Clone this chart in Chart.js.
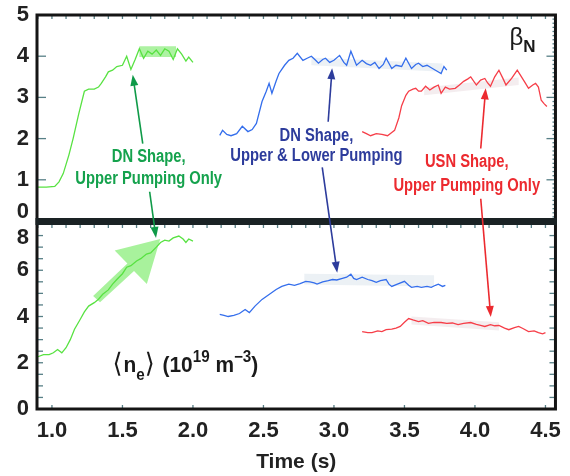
<!DOCTYPE html>
<html>
<head>
<meta charset="utf-8">
<script src="https://cdn.jsdelivr.net/npm/chart.js@4"></script>
<style>
  html, body { margin: 0; padding: 0; background: #fff; }
  canvas { display: block; }
</style>
</head>
<body>
<canvas id="chart" width="570" height="476"></canvas>
<script>
// time axis (s)
const xMin = 0.894, xMax = 4.571;

// beta_N traces
const greenBetaT = [0.90,0.96,1.02,1.05,1.08,1.12,1.15,1.19,1.23,1.26,1.30,1.33,1.35,1.38,1.40,1.43,1.46,1.50,1.53,1.56,1.59,1.62,1.65,1.68,1.71,1.74,1.77,1.80,1.83,1.86,1.89,1.92,1.95,1.97,2.00];
const greenBeta  = [0.82,0.82,0.84,0.95,1.15,1.6,2.0,2.6,3.15,3.2,3.2,3.25,3.34,3.5,3.62,3.66,3.75,3.78,4.0,3.68,3.92,4.18,3.95,4.12,4.05,4.15,4.02,4.18,4.12,3.92,4.18,4.05,3.88,3.98,3.85];
const blueBetaT = [2.19,2.21,2.24,2.27,2.31,2.35,2.39,2.42,2.45,2.49,2.52,2.54,2.56,2.59,2.61,2.65,2.68,2.71,2.74,2.78,2.81,2.84,2.87,2.89,2.92,2.94,2.97,3.00,3.04,3.07,3.09,3.12,3.16,3.20,3.23,3.26,3.29,3.32,3.35,3.37,3.41,3.44,3.48,3.51,3.55,3.58,3.60,3.63,3.66,3.69,3.72,3.76,3.78,3.80];
const blueBeta  = [2.08,2.2,2.1,2.07,2.12,2.3,2.17,2.22,2.37,2.9,3.15,3.34,3.1,3.4,3.58,3.78,3.9,3.95,4.07,3.9,3.95,4.0,3.9,3.83,3.92,3.95,3.85,3.9,4.02,3.85,3.78,4.12,3.78,3.9,3.82,3.78,3.85,3.7,3.8,3.95,3.7,3.78,3.75,3.95,3.7,3.8,3.83,3.75,3.78,3.72,3.66,3.58,3.75,3.66];
const redBetaT = [3.20,3.23,3.26,3.30,3.34,3.38,3.41,3.43,3.46,3.48,3.51,3.53,3.56,3.58,3.60,3.62,3.65,3.68,3.71,3.74,3.76,3.79,3.82,3.86,3.89,3.92,3.95,3.97,4.01,4.04,4.07,4.09,4.11,4.14,4.17,4.20,4.22,4.26,4.30,4.33,4.35,4.38,4.41,4.43,4.45,4.47,4.49,4.51];
const redBeta  = [2.17,2.12,2.07,2.12,2.1,2.07,2.15,2.2,2.5,2.8,3.05,3.15,3.2,3.22,3.15,3.15,3.27,3.18,3.25,3.3,3.1,3.25,3.2,3.22,3.3,3.39,3.45,3.5,3.3,3.42,3.46,3.35,3.27,3.5,3.66,3.45,3.3,3.46,3.66,3.5,3.39,3.22,3.3,3.34,3.25,2.93,2.85,2.78];

// <n_e> traces (10^19 m^-3)
const greenNeT = [0.90,0.94,0.98,1.01,1.04,1.07,1.10,1.13,1.16,1.20,1.23,1.26,1.30,1.33,1.36,1.40,1.43,1.46,1.50,1.53,1.56,1.60,1.63,1.67,1.70,1.74,1.77,1.80,1.83,1.86,1.90,1.93,1.95,1.97,2.00];
const greenNe  = [2.26,2.35,2.35,2.43,2.57,2.43,2.65,3.0,3.45,3.87,4.2,4.45,4.6,4.75,4.96,5.15,5.4,5.6,5.85,6.13,6.2,6.4,6.5,6.7,6.75,7.0,7.2,7.3,7.26,7.4,7.48,7.35,7.2,7.35,7.26];
const blueNeT = [2.19,2.22,2.25,2.29,2.33,2.37,2.40,2.44,2.49,2.54,2.59,2.63,2.68,2.72,2.76,2.80,2.83,2.86,2.88,2.92,2.96,2.99,3.02,3.06,3.09,3.12,3.14,3.16,3.20,3.24,3.27,3.30,3.33,3.37,3.39,3.41,3.45,3.50,3.53,3.55,3.59,3.62,3.66,3.69,3.72,3.74,3.77,3.79];
const blueNe  = [4.09,4.05,4.0,4.05,4.13,4.3,4.17,4.45,4.74,4.95,5.17,5.3,5.4,5.35,5.42,5.52,5.5,5.45,5.4,5.5,5.55,5.6,5.58,5.65,5.7,5.83,5.65,5.6,5.7,5.6,5.55,5.48,5.55,5.6,5.4,5.3,5.4,5.52,5.35,5.26,5.3,5.26,5.3,5.26,5.35,5.4,5.3,5.35];
const redNeT = [3.20,3.24,3.27,3.31,3.34,3.37,3.41,3.44,3.47,3.50,3.53,3.56,3.60,3.63,3.67,3.71,3.76,3.80,3.84,3.88,3.92,3.97,4.01,4.04,4.07,4.11,4.14,4.17,4.21,4.24,4.28,4.31,4.34,4.38,4.42,4.45,4.48,4.50];
const redNe  = [3.35,3.3,3.3,3.38,3.35,3.43,3.45,3.5,3.57,3.75,3.91,3.85,3.78,3.82,3.7,3.75,3.74,3.7,3.72,3.65,3.7,3.74,3.66,3.62,3.57,3.65,3.6,3.61,3.5,3.43,3.52,3.57,3.48,3.35,3.38,3.3,3.25,3.3];

// shaded averaging windows: [t0, t1, lo0, hi0, lo1, hi1]
const bands = [
  { axis: 'yb', box: [1.62, 1.88, 3.98, 4.24, 3.98, 4.24], color: 'rgba(105,232,85,0.55)' },
  { axis: 'yb', box: [2.84, 3.77, 3.78, 3.97, 3.62, 3.82], color: 'rgba(205,218,228,0.38)' },
  { axis: 'yb', box: [3.64, 4.31, 3.05, 3.24, 3.30, 3.48], color: 'rgba(228,210,215,0.4)' },
  { axis: 'yn', box: [2.79, 3.71, 5.38, 5.85, 5.30, 5.78], color: 'rgba(205,218,228,0.38)' },
  { axis: 'yn', box: [3.55, 4.17, 3.65, 4.00, 3.40, 3.75], color: 'rgba(228,210,215,0.4)' }
];

// big translucent arrow on the green density rise
const bigArrowT = [1.292, 1.535, 1.445, 1.768, 1.673, 1.582, 1.341];
const bigArrowV = [4.89, 6.29, 6.85, 7.35, 5.41, 5.97, 4.62];

// annotation labels and pointers
const notes = [
  { lines: ['DN Shape,', 'Upper Pumping Only'], x: 1.686, y: [1.56, 1.02], color: '#15a24d' },
  { lines: ['DN Shape,', 'Upper & Lower Pumping'], x: 2.876, y: [2.07, 1.58], color: '#2d3c9c' },
  { lines: ['USN Shape,', 'Upper Pumping Only'], x: 3.942, y: [1.44, 0.85], color: '#ec2a2f' }
];
const pointers = [
  { from: [1.644, 1.88, 'yb'], to: [1.573, 3.55, 'yb'], color: '#0f9a48' },
  { from: [1.693, 0.71, 'yb'], to: [1.738, 7.40, 'yn'], color: '#0f9a48' },
  { from: [2.959, 2.41, 'yb'], to: [2.987, 3.71, 'yb'], color: '#2d3c9c' },
  { from: [2.917, 1.30, 'yb'], to: [3.023, 5.89, 'yn'], color: '#2d3c9c' },
  { from: [4.041, 1.76, 'yb'], to: [4.076, 3.22, 'yb'], color: '#ec2a2f' },
  { from: [4.041, 0.54, 'yb'], to: [4.112, 3.98, 'yn'], color: '#ec2a2f' }
];

const pts = (xs, ys) => xs.map((x, i) => ({ x: x, y: ys[i] }));
const FONT = '"Liberation Sans", Arial, sans-serif';
const tickFont = { family: FONT, size: 22, weight: 'bold' };

function runs(ctx, x, y, parts, sx) {
  ctx.save();
  ctx.translate(x, y);
  ctx.scale(sx, 1);
  ctx.textBaseline = 'alphabetic';
  ctx.textAlign = 'left';
  let cx = 0;
  parts.forEach(p => {
    ctx.font = p.font;
    ctx.fillText(p.t, cx, p.dy || 0);
    cx += ctx.measureText(p.t).width + (p.gap || 0);
  });
  ctx.restore();
}

function arrow(ctx, x0, y0, x1, y1, color) {
  const a = Math.atan2(y1 - y0, x1 - x0);
  const hl = 11, hw = 4;
  ctx.save();
  ctx.strokeStyle = color;
  ctx.fillStyle = color;
  ctx.lineWidth = 1.6;
  ctx.beginPath();
  ctx.moveTo(x0, y0);
  ctx.lineTo(x1 - Math.cos(a) * hl * 0.8, y1 - Math.sin(a) * hl * 0.8);
  ctx.stroke();
  ctx.beginPath();
  ctx.moveTo(x1, y1);
  ctx.lineTo(x1 - Math.cos(a) * hl - Math.sin(a) * hw, y1 - Math.sin(a) * hl + Math.cos(a) * hw);
  ctx.lineTo(x1 - Math.cos(a) * hl + Math.sin(a) * hw, y1 - Math.sin(a) * hl - Math.cos(a) * hw);
  ctx.closePath();
  ctx.fill();
  ctx.restore();
}

const deco = {
  id: 'deco',
  beforeDatasetsDraw(chart) {
    const ctx = chart.ctx, xs = chart.scales.x;
    ctx.save();
    bands.forEach(b => {
      const ys = chart.scales[b.axis], [t0, t1, l0, h0, l1, h1] = b.box;
      ctx.fillStyle = b.color;
      ctx.beginPath();
      ctx.moveTo(xs.getPixelForValue(t0), ys.getPixelForValue(l0));
      ctx.lineTo(xs.getPixelForValue(t0), ys.getPixelForValue(h0));
      ctx.lineTo(xs.getPixelForValue(t1), ys.getPixelForValue(h1));
      ctx.lineTo(xs.getPixelForValue(t1), ys.getPixelForValue(l1));
      ctx.closePath();
      ctx.fill();
    });
    const yn = chart.scales.yn;
    ctx.fillStyle = 'rgba(105,232,85,0.58)';
    ctx.beginPath();
    bigArrowT.forEach((t, i) => {
      const px = xs.getPixelForValue(t), py = yn.getPixelForValue(bigArrowV[i]);
      if (i === 0) ctx.moveTo(px, py); else ctx.lineTo(px, py);
    });
    ctx.closePath();
    ctx.fill();
    ctx.restore();
  },
  afterDatasetsDraw(chart) {
    const ctx = chart.ctx, xs = chart.scales.x, yb = chart.scales.yb, yn = chart.scales.yn;
    const L = chart.chartArea.left, R = chart.chartArea.right;
    ctx.save();

    // inner tick marks
    ctx.strokeStyle = '#577f86';
    ctx.lineWidth = 1.3;
    const tick = (x0, y0, x1, y1) => { ctx.beginPath(); ctx.moveTo(x0, y0); ctx.lineTo(x1, y1); ctx.stroke(); };
    for (let k = 9; k <= 45; k++) {
      const px = xs.getPixelForValue(k / 10);
      tick(px, yb.top, px, yb.top + 4);
      tick(px, yn.top + 3, px, yn.top + 7);
      if (k % 5 === 0) tick(px, yn.bottom, px, yn.bottom - 4);
    }
    for (let k = 1; k < 50; k++) {
      const py = yb.getPixelForValue(k / 10);
      const major = k % 10 === 0;
      tick(R, py, R - (major ? 9 : 3), py);
      if (major) tick(L, py, L + 9, py);
    }
    for (let k = 1; k < 16; k++) {
      const py = yn.getPixelForValue(k / 2);
      tick(L, py, L + 6, py);
      tick(R, py, R - 6, py);
    }

    // panel frames
    ctx.strokeStyle = '#151515';
    ctx.lineWidth = 3;
    ctx.strokeRect(L, yb.top, R - L, yn.bottom - yb.top);
    ctx.fillStyle = '#1a2224';
    ctx.fillRect(L - 1.5, yb.bottom - 3, R - L + 3, 7);

    // pointers
    pointers.forEach(p => {
      arrow(ctx,
        xs.getPixelForValue(p.from[0]), chart.scales[p.from[2]].getPixelForValue(p.from[1]),
        xs.getPixelForValue(p.to[0]), chart.scales[p.to[2]].getPixelForValue(p.to[1]), p.color);
    });

    // annotation text
    notes.forEach(n => {
      n.lines.forEach((s, i) => {
        ctx.save();
        ctx.font = 'bold 18px ' + FONT;
        ctx.fillStyle = n.color;
        ctx.textAlign = 'center';
        ctx.textBaseline = 'middle';
        ctx.translate(xs.getPixelForValue(n.x), yb.getPixelForValue(n.y[i]));
        ctx.scale(0.82, 1);
        ctx.fillText(s, 0, 0);
        ctx.restore();
      });
    });

    // panel quantity labels
    ctx.fillStyle = '#1a1a1a';
    runs(ctx, R - 46, yb.top + 30, [
      { t: 'β', font: '24px ' + FONT },
      { t: 'N', font: 'bold 17px ' + FONT, dy: 7 }
    ], 1);
    runs(ctx, xs.getPixelForValue(1.43), yn.getPixelForValue(1.62), [
      { t: '⟨', font: '27px "DejaVu Sans", sans-serif', gap: 1 },
      { t: 'n', font: 'bold 22px ' + FONT },
      { t: 'e', font: 'bold 16px ' + FONT, dy: 8 },
      { t: '⟩', font: '27px "DejaVu Sans", sans-serif', gap: 2 },
      { t: ' (10', font: 'bold 22px ' + FONT },
      { t: '19', font: 'bold 16px ' + FONT, dy: -10 },
      { t: ' m', font: 'bold 22px ' + FONT },
      { t: '−3', font: 'bold 16px ' + FONT, dy: -10 },
      { t: ')', font: 'bold 22px ' + FONT }
    ], 0.95);
    ctx.restore();
  }
};

// fixed left gutter, no extra edge padding from the stacked y labels
const fitLeft = s => { s.width = 37; s.paddingTop = 0; s.paddingBottom = 0; };

new Chart(document.getElementById('chart'), {
  type: 'line',
  data: {
    datasets: [
      { data: pts(greenBetaT, greenBeta), yAxisID: 'yb', borderColor: 'rgb(88,226,66)' },
      { data: pts(blueBetaT, blueBeta), yAxisID: 'yb', borderColor: 'rgb(52,110,236)' },
      { data: pts(redBetaT, redBeta), yAxisID: 'yb', borderColor: 'rgb(246,62,72)' },
      { data: pts(greenNeT, greenNe), yAxisID: 'yn', borderColor: 'rgb(88,226,66)' },
      { data: pts(blueNeT, blueNe), yAxisID: 'yn', borderColor: 'rgb(52,110,236)' },
      { data: pts(redNeT, redNe), yAxisID: 'yn', borderColor: 'rgb(246,62,72)' }
    ]
  },
  plugins: [deco],
  options: {
    responsive: false,
    animation: false,
    layout: { padding: { top: 15, right: 13, left: 0, bottom: 0 } },
    elements: {
      line: { borderWidth: 1.3, tension: 0, fill: false },
      point: { radius: 0 }
    },
    plugins: { legend: { display: false }, tooltip: { enabled: false } },
    scales: {
      x: {
        type: 'linear', min: xMin, max: xMax,
        grid: { display: false, drawTicks: false },
        border: { display: false },
        ticks: {
          stepSize: 0.5, includeBounds: false, maxRotation: 0, padding: 9, autoSkip: false,
          color: '#222', font: tickFont,
          callback: v => v.toFixed(1)
        },
        title: { display: true, text: 'Time (s)', color: '#222', font: { family: FONT, size: 21, weight: 'bold' }, padding: { top: 0, bottom: 1 } },
        afterFit: s => { s.height = 67; }
      },
      yn: {
        type: 'linear', position: 'left', stack: 'panels', stackWeight: 188,
        min: 0, max: 8.13,
        grid: { display: false, drawTicks: false },
        border: { display: false },
        ticks: {
          stepSize: 2, includeBounds: false, padding: 8, autoSkip: false,
          color: '#222', font: { family: FONT, size: 22, weight: 'bold', lineHeight: 1.3 },
          callback: v => v === 8 ? ['', '8'] : String(v)
        },
        afterFit: fitLeft
      },
      yb: {
        type: 'linear', position: 'left', stack: 'panels', stackWeight: 206,
        min: 0, max: 5,
        grid: { display: false, drawTicks: false },
        border: { display: false },
        ticks: {
          stepSize: 1, padding: 8, autoSkip: false,
          color: '#222', font: { family: FONT, size: 22, weight: 'bold', lineHeight: 0.8 },
          callback: v => v === 0 ? ['0', ''] : String(v)
        },
        afterFit: fitLeft
      }
    }
  }
});
</script>
</body>
</html>
